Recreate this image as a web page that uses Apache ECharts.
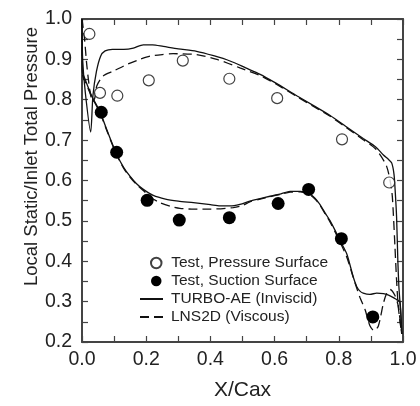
<!DOCTYPE html>
<html>
<head>
<meta charset="utf-8">
<script src="https://cdn.jsdelivr.net/npm/echarts@6/dist/echarts.min.js"></script>
<style>
html,body{margin:0;padding:0;background:#fff;}
#chart{width:420px;height:406px;}
</style>
</head>
<body>
<div id="chart"></div>
<script>
// ---- data (x/Cax, p/P0) ----
var pressureTest = [[0.023,0.963],[0.056,0.817],[0.110,0.810],[0.208,0.848],[0.314,0.897],[0.459,0.852],[0.608,0.804],[0.810,0.702],[0.957,0.595]];
var suctionTest = [[0.060,0.769],[0.108,0.670],[0.203,0.551],[0.303,0.502],[0.459,0.508],[0.611,0.543],[0.706,0.578],[0.808,0.456],[0.906,0.262]];

var turboPressure = [[0.000,1.000],[0.002,0.900],[0.010,0.820],[0.027,0.720],[0.034,0.810],[0.045,0.870],[0.058,0.908],[0.072,0.921],[0.095,0.925],[0.130,0.925],[0.160,0.928],[0.191,0.936],[0.220,0.936],[0.253,0.932],[0.300,0.926],[0.357,0.920],[0.410,0.909],[0.461,0.896],[0.510,0.879],[0.555,0.863],[0.600,0.843],[0.669,0.810],[0.720,0.786],[0.773,0.761],[0.820,0.735],[0.876,0.704],[0.915,0.683],[0.939,0.663],[0.955,0.652],[0.965,0.643],[0.972,0.615],[0.976,0.570],[0.980,0.510],[0.984,0.400],[0.987,0.340],[0.990,0.305],[0.994,0.260],[0.996,0.220]];
var turboSuction = [[0.000,1.000],[0.001,0.870],[0.010,0.850],[0.030,0.810],[0.056,0.770],[0.080,0.720],[0.108,0.665],[0.130,0.632],[0.150,0.610],[0.170,0.592],[0.191,0.578],[0.222,0.563],[0.260,0.554],[0.300,0.549],[0.347,0.545],[0.400,0.540],[0.430,0.537],[0.461,0.537],[0.492,0.541],[0.523,0.549],[0.555,0.555],[0.586,0.561],[0.620,0.567],[0.648,0.573],[0.680,0.573],[0.705,0.569],[0.725,0.557],[0.741,0.541],[0.757,0.520],[0.773,0.500],[0.790,0.474],[0.804,0.451],[0.825,0.418],[0.845,0.361],[0.856,0.337],[0.866,0.326],[0.876,0.321],[0.897,0.318],[0.918,0.321],[0.939,0.320],[0.955,0.316],[0.970,0.310],[0.980,0.305],[0.990,0.300],[0.994,0.260],[0.996,0.220]];

var lnsPressure = [[0.000,1.000],[0.008,0.950],[0.015,0.885],[0.025,0.820],[0.033,0.795],[0.040,0.805],[0.046,0.834],[0.066,0.859],[0.098,0.871],[0.139,0.887],[0.180,0.900],[0.212,0.908],[0.250,0.912],[0.284,0.914],[0.357,0.912],[0.420,0.900],[0.492,0.879],[0.555,0.860],[0.600,0.841],[0.669,0.808],[0.720,0.784],[0.773,0.759],[0.820,0.733],[0.876,0.701],[0.915,0.678],[0.949,0.635],[0.965,0.574],[0.970,0.516],[0.975,0.435],[0.980,0.353],[0.985,0.290],[0.990,0.255],[0.996,0.220]];
var lnsSuction = [[0.000,1.000],[0.002,0.860],[0.010,0.845],[0.030,0.808],[0.056,0.768],[0.080,0.718],[0.108,0.663],[0.130,0.630],[0.150,0.608],[0.170,0.590],[0.191,0.575],[0.215,0.558],[0.243,0.545],[0.275,0.536],[0.305,0.531],[0.350,0.529],[0.400,0.529],[0.471,0.533],[0.500,0.538],[0.523,0.547],[0.555,0.554],[0.586,0.560],[0.620,0.566],[0.648,0.571],[0.680,0.572],[0.705,0.567],[0.725,0.555],[0.741,0.539],[0.757,0.518],[0.773,0.497],[0.790,0.470],[0.804,0.447],[0.825,0.410],[0.845,0.360],[0.866,0.310],[0.882,0.280],[0.897,0.240],[0.910,0.228],[0.923,0.239],[0.939,0.296],[0.949,0.320],[0.960,0.330],[0.975,0.315],[0.985,0.290],[0.990,0.260],[0.996,0.220]];

var seriesNames = ['Test, Pressure Surface','Test, Suction Surface','TURBO-AE (Inviscid)','LNS2D (Viscous)'];
var xTitle = 'X/Cax';
var yTitle = 'Local Static/Inlet Total Pressure';

var FONT = '"Liberation Sans", Arial, Helvetica, sans-serif';
var AX = '#444';
var chart = echarts.init(document.getElementById('chart'), null, {renderer:'canvas'});

function axisCommon() {
  return {
    axisLine:{show:true,onZero:false,lineStyle:{color:AX,width:2}},
    axisTick:{show:true,inside:true,length:6,lineStyle:{color:AX,width:1.2}},
    minorTick:{show:true,splitNumber:2,length:6,lineStyle:{color:AX,width:1.2}},
    splitLine:{show:false},
    minorSplitLine:{show:false}
  };
}
var xBottom = Object.assign(axisCommon(), {
  type:'value', min:0, max:1, interval:0.2, position:'bottom',
  name:xTitle, nameLocation:'middle', nameGap:38, nameMoveOverlap:false,
  nameTextStyle:{fontFamily:FONT,fontSize:21,color:'#222'},
  axisLabel:{show:true,margin:8,fontFamily:FONT,fontSize:19.5,color:'#222',formatter:function(v){return v.toFixed(1);}}
});
var xTop = Object.assign(axisCommon(), {
  type:'value', min:0, max:1, interval:0.2, position:'top',
  axisLabel:{show:false}
});
var yLeft = Object.assign(axisCommon(), {
  type:'value', min:0.2, max:1.0, interval:0.1, position:'left',
  name:yTitle, nameLocation:'middle', nameGap:41, nameRotate:90, nameMoveOverlap:false,
  nameTextStyle:{fontFamily:FONT,fontSize:18.5,color:'#222',padding:[0,0,0,48]},
  axisLabel:{show:true,margin:10,fontFamily:FONT,fontSize:19.5,color:'#222',formatter:function(v){return v.toFixed(1);}}
});
var yRight = Object.assign(axisCommon(), {
  type:'value', min:0.2, max:1.0, interval:0.1, position:'right',
  axisLabel:{show:false}
});

var lineW = 1.3;
var option = {
  animation:false,
  backgroundColor:'#fff',
  grid:{left:82,right:17,top:19,bottom:60,containLabel:false},
  xAxis:[xBottom, xTop],
  yAxis:[yLeft, yRight],
  legend:[{
    data:[seriesNames[0],seriesNames[1]],
    orient:'vertical', left:145, top:250,
    itemWidth:20, itemHeight:10.5, itemGap:2,
    textStyle:{fontFamily:FONT,fontSize:15.5,color:'#222'},
    selectedMode:false
  },{
    data:[seriesNames[2],seriesNames[3]],
    orient:'vertical', left:134, top:286,
    itemWidth:23, itemHeight:11, itemGap:2,
    itemStyle:{opacity:0},
    textStyle:{fontFamily:FONT,fontSize:15.5,color:'#222',padding:[0,0,0,3]},
    selectedMode:false
  }],
  series:[
    {name:seriesNames[2],type:'line',data:turboPressure,symbol:'none',smooth:0.25,
     lineStyle:{color:'#111',width:lineW,type:'solid'},itemStyle:{color:'#111'},z:2},
    {name:seriesNames[2],type:'line',data:turboSuction,symbol:'none',smooth:0.25,
     lineStyle:{color:'#111',width:lineW,type:'solid'},itemStyle:{color:'#111'},z:2},
    {name:seriesNames[3],type:'line',data:lnsPressure,symbol:'none',smooth:0.25,
     lineStyle:{color:'#111',width:lineW,type:[9,5]},itemStyle:{color:'#111'},z:2},
    {name:seriesNames[3],type:'line',data:lnsSuction,symbol:'none',smooth:0.25,
     lineStyle:{color:'#111',width:lineW,type:[9,5]},itemStyle:{color:'#111'},z:2},
    {name:seriesNames[0],type:'scatter',data:pressureTest,symbol:'circle',symbolSize:11,
     itemStyle:{color:'#fff',borderColor:'#111',borderWidth:1.2},z:5},
    {name:seriesNames[1],type:'scatter',data:suctionTest,symbol:'circle',symbolSize:13,
     itemStyle:{color:'#000',borderColor:'#000',borderWidth:0,opacity:1},z:5}
  ]
};
chart.setOption(option);
</script>
</body>
</html>
